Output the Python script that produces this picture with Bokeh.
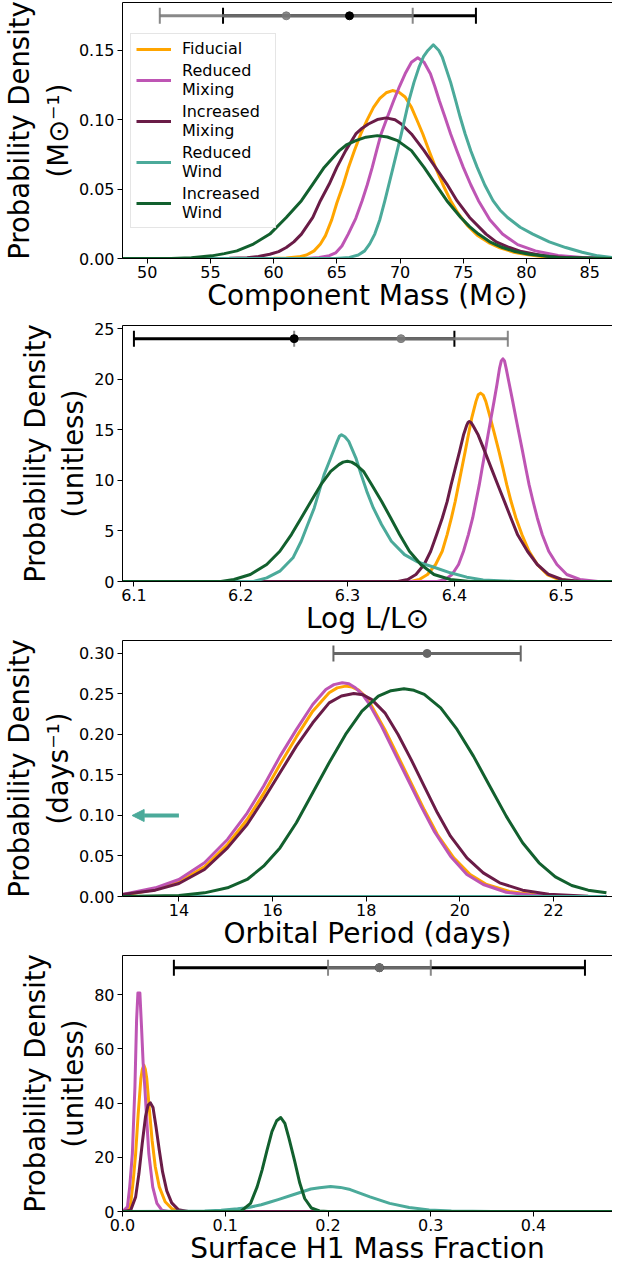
from bokeh.plotting import figure
from bokeh.models import (ColumnDataSource, Whisker, TeeHead, Arrow, NormalHead,
                          Legend, LegendItem, FixedTicker, LinearAxis, NumeralTickFormatter)
from bokeh.layouts import column
from bokeh.embed import file_html
from bokeh.resources import INLINE

# ---------------- data ----------------
series_names = ["Fiducial", "Reduced\nMixing", "Increased\nMixing", "Reduced\nWind", "Increased\nWind"]
series_colors = ["#FFA500", "#BE55B4", "#6A1C47", "#4BAA9A", "#12602E"]

# Panel 1: component mass
mass_x_fid = [48, 58, 60, 61, 62, 62.6, 63.2, 63.7, 64.1, 64.6, 65.0, 65.5, 65.9, 66.4, 66.9, 67.4, 67.9, 68.4, 68.9, 69.4, 69.9, 70.4, 70.9, 71.35, 71.8, 72.3, 72.8, 73.4, 74.0, 74.6, 75.3, 76.1, 77.0, 77.9, 79.0, 80.0, 81.2, 82.5, 84, 87]
mass_y_fid = [0, 0, 0.0001, 0.0004, 0.0012, 0.0025, 0.0055, 0.0105, 0.0165, 0.028, 0.040, 0.053, 0.065, 0.078, 0.090, 0.100, 0.109, 0.1155, 0.1195, 0.1211, 0.1200, 0.1165, 0.109, 0.0995, 0.0898, 0.0775, 0.0657, 0.053, 0.0417, 0.0325, 0.024, 0.0168, 0.0115, 0.0077, 0.0045, 0.0028, 0.0014, 0.0007, 0.0002, 0]
mass_x_rmix = [48, 62.5, 63.6, 64.4, 64.9, 65.4, 65.9, 66.5, 67.0, 67.4, 67.8, 68.15, 68.5, 69.0, 69.5, 69.95, 70.4, 70.9, 71.4, 71.9, 72.4, 72.75, 73.1, 73.55, 74.0, 74.5, 75.0, 75.6, 76.2, 77.1, 78.1, 79.3, 80.7, 82.5, 84.4, 87]
mass_y_rmix = [0, 0, 0.0008, 0.002, 0.004, 0.009, 0.0176, 0.029, 0.0417, 0.053, 0.0657, 0.078, 0.0898, 0.102, 0.1139, 0.124, 0.1332, 0.1415, 0.1447, 0.1415, 0.1332, 0.124, 0.1139, 0.102, 0.0898, 0.0775, 0.0657, 0.053, 0.0417, 0.028, 0.0176, 0.0100, 0.0055, 0.0022, 0.0007, 0]
mass_x_imix = [48, 56.5, 57.9, 58.8, 59.7, 60.4, 61.0, 61.6, 62.2, 63.1, 63.7, 64.4, 65.0, 65.7, 66.5, 67.0, 67.5, 68.2, 68.9, 69.6, 70.1, 70.9, 71.9, 72.8, 73.7, 74.5, 75.5, 76.8, 77.6, 78.65, 79.6, 80.7, 81.8, 83.1, 87]
mass_y_imix = [0, 0.0001, 0.0006, 0.0015, 0.0031, 0.005, 0.0079, 0.012, 0.0176, 0.0296, 0.0417, 0.0537, 0.0657, 0.0778, 0.0898, 0.094, 0.097, 0.1002, 0.1014, 0.1000, 0.097, 0.0898, 0.0778, 0.0657, 0.0537, 0.0417, 0.0296, 0.0176, 0.012, 0.0079, 0.005, 0.0031, 0.0015, 0.0007, 0]
mass_x_rwind = [48, 64.9, 66.0, 66.7, 67.2, 67.6, 68.0, 68.4, 68.8, 69.45, 70.1, 70.7, 71.1, 71.5, 71.85, 72.2, 72.63, 73.07, 73.35, 73.6, 74.0, 74.4, 74.75, 75.15, 75.6, 76.1, 76.7, 77.35, 77.9, 78.5, 79.5, 80.5, 81.8, 83.1, 84.4, 85.65, 87]
mass_y_rwind = [0, 0, 0.0008, 0.0025, 0.0055, 0.0105, 0.0176, 0.028, 0.0417, 0.0657, 0.0898, 0.1139, 0.127, 0.138, 0.1455, 0.150, 0.1541, 0.150, 0.145, 0.138, 0.127, 0.1139, 0.102, 0.0898, 0.0775, 0.0657, 0.053, 0.0417, 0.035, 0.0296, 0.0225, 0.0176, 0.012, 0.0079, 0.0045, 0.0019, 0.0005]
mass_x_iwind = [48, 51.9, 53.5, 55.1, 56.1, 57.1, 58.4, 59.7, 61.0, 62.2, 63.1, 64.0, 65.2, 65.8, 66.5, 67.3, 68.2, 69.0, 69.8, 70.9, 71.9, 72.8, 73.7, 74.8, 75.5, 76.2, 77.1, 78.1, 79.1, 80.2, 82.5, 87]
mass_y_iwind = [0, 0, 0.0006, 0.0019, 0.0035, 0.0055, 0.0104, 0.0176, 0.0296, 0.0417, 0.0537, 0.0657, 0.0778, 0.0822, 0.085, 0.0875, 0.0886, 0.0876, 0.085, 0.0778, 0.0657, 0.0537, 0.0417, 0.0296, 0.023, 0.0176, 0.012, 0.0079, 0.005, 0.0031, 0.0007, 0]
mass_obs_black = dict(center=[66.0], lo=[56.0], hi=[76.0], y=[0.175])
mass_obs_gray = dict(center=[61.0], lo=[51.0], hi=[71.0], y=[0.175])

# Panel 2: log luminosity
lum_x_fid = [6.08, 6.3594, 6.3671, 6.3748, 6.3824, 6.3886, 6.3932, 6.3972, 6.4008, 6.4039, 6.407, 6.4101, 6.4131, 6.4162, 6.4202, 6.4223, 6.4245, 6.427, 6.4294, 6.4337, 6.4377, 6.4417, 6.4454, 6.449, 6.453, 6.4576, 6.4632, 6.4699, 6.4776, 6.4868, 6.4975, 6.5129, 6.56]
lum_y_fid = [0, 0, 0.2, 0.69, 1.68, 2.99, 4.64, 6.28, 7.93, 9.57, 11.22, 12.86, 14.51, 16.15, 17.8, 18.45, 18.62, 18.42, 17.8, 16.15, 14.51, 12.86, 11.22, 9.57, 7.93, 6.28, 4.64, 2.99, 1.68, 0.69, 0.2, 0, 0]
lum_x_rmix = [6.08, 6.384, 6.3916, 6.3978, 6.4039, 6.4085, 6.4131, 6.4171, 6.4202, 6.4233, 6.426, 6.4288, 6.4315, 6.4343, 6.4371, 6.4398, 6.4423, 6.4439, 6.4454, 6.4469, 6.4484, 6.4515, 6.4546, 6.4576, 6.4607, 6.4638, 6.4668, 6.4699, 6.4736, 6.4776, 6.4822, 6.4883, 6.496, 6.5052, 6.5175, 6.5344, 6.56]
lum_y_rmix = [0, 0, 0.2, 0.69, 1.68, 2.99, 4.64, 6.28, 7.93, 9.57, 11.22, 12.86, 14.51, 16.15, 17.8, 19.44, 21.09, 21.8, 22.01, 21.8, 21.09, 19.44, 17.8, 16.15, 14.51, 12.86, 11.22, 9.57, 7.93, 6.28, 4.64, 2.99, 1.68, 0.69, 0.2, 0, 0]
lum_x_imix = [6.08, 6.3471, 6.3563, 6.364, 6.3717, 6.3778, 6.3833, 6.3886, 6.3932, 6.3969, 6.4008, 6.4048, 6.4085, 6.4116, 6.4128, 6.414, 6.4155, 6.4171, 6.4223, 6.4285, 6.4346, 6.4407, 6.4469, 6.453, 6.4592, 6.4684, 6.4776, 6.4883, 6.5006, 6.519, 6.56]
lum_y_imix = [0, 0, 0.2, 0.69, 1.68, 2.99, 4.61, 6.25, 7.89, 9.54, 11.18, 12.83, 14.47, 15.46, 15.72, 15.82, 15.72, 15.46, 14.47, 12.83, 11.18, 9.54, 7.89, 6.25, 4.61, 2.99, 1.68, 0.69, 0.2, 0, 0]
lum_x_rwind = [6.08, 6.212, 6.2243, 6.2366, 6.2489, 6.2566, 6.2627, 6.2688, 6.2734, 6.278, 6.2842, 6.2903, 6.2923, 6.2943, 6.2975, 6.3011, 6.3078, 6.3127, 6.318, 6.3241, 6.3318, 6.341, 6.3533, 6.3655, 6.3809, 6.3962, 6.4116, 6.4269, 6.4576, 6.56]
lum_y_rwind = [0, 0, 0.36, 1.02, 2.34, 3.98, 5.63, 7.27, 8.91, 10.56, 12.2, 13.85, 14.35, 14.5, 14.3, 13.85, 12.2, 10.56, 8.91, 7.27, 5.63, 3.98, 2.66, 1.94, 1.41, 0.86, 0.43, 0.16, 0, 0]
lum_x_iwind = [6.08, 6.1814, 6.1936, 6.209, 6.2243, 6.2366, 6.2474, 6.2566, 6.2658, 6.275, 6.2842, 6.2919, 6.2958, 6.2998, 6.3038, 6.3078, 6.3149, 6.3226, 6.3318, 6.3404, 6.3487, 6.3579, 6.3686, 6.3809, 6.3962, 6.4147, 6.56]
lum_y_iwind = [0, 0, 0.2, 0.69, 1.68, 2.99, 4.64, 6.28, 7.93, 9.57, 10.89, 11.55, 11.8, 11.88, 11.8, 11.55, 10.89, 9.57, 7.93, 6.28, 4.64, 2.99, 1.68, 0.69, 0.2, 0, 0]
lum_obs_black = dict(center=[6.25], lo=[6.10], hi=[6.40], y=[24.0])
lum_obs_gray = dict(center=[6.35], lo=[6.25], hi=[6.45], y=[24.0])

# Panel 3: orbital period
per_x_fid = [12.795, 13.496, 14.0, 14.546, 15.037, 15.457, 15.807, 16.158, 16.508, 16.858, 17.208, 17.38, 17.559, 17.7, 17.839, 17.98, 18.119, 18.399, 18.68, 18.96, 19.24, 19.52, 19.87, 20.22, 20.57, 21.06, 21.62, 22.46, 23.13]
per_y_fid = [0.0016, 0.0086, 0.0177, 0.0366, 0.0642, 0.095, 0.127, 0.163, 0.197, 0.2288, 0.2514, 0.2575, 0.2597, 0.2585, 0.2547, 0.247, 0.235, 0.206, 0.173, 0.140, 0.107, 0.0765, 0.0477, 0.0272, 0.0148, 0.0062, 0.002, 0.0, 0.0]
per_x_rmix = [12.795, 13.496, 14.0, 14.546, 15.037, 15.457, 15.807, 16.158, 16.508, 16.858, 17.138, 17.31, 17.489, 17.63, 17.769, 17.91, 18.049, 18.329, 18.609, 18.89, 19.17, 19.45, 19.8, 20.15, 20.5, 20.99, 21.55, 22.25, 23.13]
per_y_rmix = [0.0025, 0.0107, 0.021, 0.0416, 0.0704, 0.103, 0.136, 0.173, 0.206, 0.237, 0.2556, 0.2615, 0.2638, 0.2625, 0.2576, 0.250, 0.239, 0.210, 0.177, 0.1444, 0.1115, 0.0807, 0.0498, 0.0272, 0.0148, 0.0053, 0.0016, 0.0, 0.0]
per_x_imix = [12.795, 13.496, 14.0, 14.546, 15.037, 15.457, 15.807, 16.158, 16.508, 16.858, 17.208, 17.47, 17.734, 17.93, 18.119, 18.399, 18.68, 18.96, 19.24, 19.52, 19.8, 20.15, 20.5, 20.85, 21.34, 21.9, 22.74, 23.13]
per_y_imix = [0.0025, 0.0078, 0.016, 0.0333, 0.060, 0.0889, 0.1198, 0.1527, 0.1856, 0.2144, 0.239, 0.2475, 0.2506, 0.249, 0.243, 0.2267, 0.2, 0.169, 0.136, 0.1033, 0.0745, 0.0477, 0.0292, 0.0169, 0.0078, 0.0029, 0.0004, 0.0]
per_x_rwind = [12.795, 23.13]
per_y_rwind = [0.0, 0.0]
per_x_iwind = [12.795, 14.0, 14.546, 15.037, 15.457, 15.807, 16.158, 16.508, 16.858, 17.208, 17.559, 17.909, 18.259, 18.53, 18.806, 19.02, 19.24, 19.59, 19.94, 20.29, 20.64, 20.99, 21.34, 21.69, 22.04, 22.39, 22.74, 23.13]
per_y_iwind = [0.0, 0.0012, 0.0045, 0.0107, 0.021, 0.0374, 0.060, 0.091, 0.128, 0.165, 0.2, 0.2288, 0.2473, 0.254, 0.2564, 0.2545, 0.2494, 0.2329, 0.2062, 0.1733, 0.1362, 0.0992, 0.0663, 0.0416, 0.0243, 0.0136, 0.0078, 0.0045]
per_obs_gray = dict(center=[19.3], lo=[17.3], hi=[21.3], y=[0.30])
per_arrow_x = [14.0, 13.0]
per_arrow_y = 0.10

# Panel 4: surface H1 mass fraction
h_x_fid = [0.0, 0.0048, 0.008, 0.0105, 0.0128, 0.0153, 0.0179, 0.0193, 0.0208, 0.0222, 0.0236, 0.0262, 0.0288, 0.0319, 0.0358, 0.0415, 0.0479, 0.0543, 0.065, 0.48]
h_y_fid = [0, 0.2, 3.0, 11.6, 21.4, 36.2, 49.1, 52.5, 54.0, 52.5, 49.1, 37.4, 26.3, 16.5, 9.1, 3.6, 1.1, 0.1, 0, 0]
h_x_rmix = [0.0, 0.0048, 0.007, 0.0096, 0.0121, 0.0137, 0.015, 0.0169, 0.0185, 0.0201, 0.0217, 0.0236, 0.0256, 0.0294, 0.0335, 0.0383, 0.0447, 0.48]
h_y_rmix = [0, 1.7, 9.1, 21.4, 46, 70.6, 80.7, 80.7, 68.2, 54.6, 46, 33.7, 21.4, 9.1, 3.0, 0.5, 0, 0]
h_x_imix = [0.0, 0.008, 0.0128, 0.016, 0.0192, 0.0224, 0.0249, 0.0272, 0.0297, 0.0326, 0.0358, 0.039, 0.0431, 0.0479, 0.0543, 0.0639, 0.48]
h_y_imix = [0, 0.5, 5.4, 14.0, 25.1, 35.0, 39.3, 40.1, 38.4, 31.3, 22.6, 14.6, 7.6, 3.2, 0.7, 0, 0]
h_x_rwind = [0.0, 0.06, 0.08, 0.096, 0.112, 0.1214, 0.135, 0.1438, 0.1514, 0.166, 0.1833, 0.1917, 0.2025, 0.2120, 0.2216, 0.2408, 0.26, 0.279, 0.2984, 0.32, 0.34, 0.36, 0.48]
h_y_rwind = [0, 0.05, 0.2, 0.5, 1.0, 1.4, 2.5, 3.5, 4.4, 6.2, 8.3, 8.8, 9.2, 8.9, 8.1, 5.4, 3.0, 1.5, 0.6, 0.2, 0.05, 0, 0]
h_x_iwind = [0.0, 0.115, 0.1246, 0.131, 0.1358, 0.1406, 0.1454, 0.15, 0.154, 0.158, 0.162, 0.1673, 0.1725, 0.1773, 0.1837, 0.1917, 0.2, 0.48]
h_y_iwind = [0, 0, 3.0, 9.1, 15.3, 22.6, 29.5, 33.5, 34.7, 32.5, 27.0, 19.0, 10.5, 4.8, 1.3, 0.2, 0, 0]
h_obs_black = dict(center=[0.25], lo=[0.05], hi=[0.45], y=[90.0])
h_obs_gray = dict(center=[0.25], lo=[0.20], hi=[0.30], y=[90.0])

# axis ticks / labels
mass_xticks = [50, 55, 60, 65, 70, 75, 80, 85]
mass_yticks = [0.0, 0.05, 0.10, 0.15]
lum_xticks = [6.1, 6.2, 6.3, 6.4, 6.5]
lum_yticks = [0, 5, 10, 15, 20, 25]
per_xticks = [14, 16, 18, 20, 22]
per_yticks = [0.0, 0.05, 0.10, 0.15, 0.20, 0.25, 0.30]
h_xticks = [0.0, 0.1, 0.2, 0.3, 0.4]
h_yticks = [0, 20, 40, 60, 80]

# ---------------- styling ----------------
FONT = "DejaVu Sans"
FIG_W = 612
FRAME_H = 256
BOTTOM = 57


def make_fig(xr, yr, xticks, yticks, xlabel, ylabel, top_border, xfmt=None, yfmt=None):
    p = figure(width=FIG_W, height=top_border + FRAME_H + BOTTOM, x_range=xr, y_range=yr,
               output_backend="svg", toolbar_location=None,
               min_border_left=114, min_border_right=0,
               min_border_top=top_border, min_border_bottom=BOTTOM)
    p.outline_line_color = None
    p.grid.visible = False
    p.background_fill_color = "white"
    p.border_fill_color = "white"
    p.xaxis.ticker = FixedTicker(ticks=xticks)
    p.yaxis.ticker = FixedTicker(ticks=yticks)
    if xfmt:
        p.xaxis.formatter = NumeralTickFormatter(format=xfmt)
    if yfmt:
        p.yaxis.formatter = NumeralTickFormatter(format=yfmt)
    for ax in (p.xaxis[0], p.yaxis[0]):
        ax.axis_line_color = "black"
        ax.axis_line_width = 1
        ax.major_tick_line_color = "black"
        ax.major_tick_line_width = 1
        ax.major_tick_out = 5
        ax.major_tick_in = 0
        ax.minor_tick_line_color = None
        ax.major_label_text_font = FONT
        ax.major_label_text_font_size = "16px"
        ax.major_label_text_color = "black"
        ax.axis_label_text_font = FONT
        ax.axis_label_text_font_style = "normal"
        ax.axis_label_text_color = "black"
    p.xaxis.axis_label = xlabel
    p.yaxis.axis_label = ylabel
    p.xaxis.major_label_standoff = 2
    p.yaxis.major_label_standoff = 3
    p.xaxis.axis_label_text_font_size = "28px"
    p.yaxis.axis_label_text_font_size = "27.5px"
    p.xaxis.axis_label_standoff = -2
    p.yaxis.axis_label_standoff = 2
    top = LinearAxis(ticker=FixedTicker(ticks=[]), major_label_text_font_size="0px",
                     axis_line_color="black", major_tick_line_color=None,
                     minor_tick_line_color=None, major_tick_out=0, major_tick_in=0,
                     major_label_standoff=0)
    p.add_layout(top, "above")
    return p


def add_curves(p, xs, ys):
    rends = []
    for x, y, c in zip(xs, ys, series_colors):
        r = p.line(x, y, line_color=c, line_width=3, line_join="round")
        rends.append(r)
    return rends


def add_errbar(p, d, color, alpha):
    src = ColumnDataSource(d)
    w = Whisker(source=src, base="y", lower="lo", upper="hi", dimension="width",
                line_color=color, line_width=3, line_alpha=alpha,
                lower_head=TeeHead(size=16, line_color=color, line_width=2, line_alpha=alpha),
                upper_head=TeeHead(size=16, line_color=color, line_width=2, line_alpha=alpha))
    p.add_layout(w)
    return src


GRAY = "#777777"
GRAY_ALPHA = 0.87

# Panel 1
p1 = make_fig((48.05, 86.8), (0, 0.1846), mass_xticks, mass_yticks,
              "Component Mass (M\u2299)", "Probability Density\n(M\u2299\u207b\u00b9)", 2,
              yfmt="0.00")
r1 = add_curves(p1, [mass_x_fid, mass_x_rmix, mass_x_imix, mass_x_rwind, mass_x_iwind],
                [mass_y_fid, mass_y_rmix, mass_y_imix, mass_y_rwind, mass_y_iwind])
sb = add_errbar(p1, mass_obs_black, "black", 1.0)
sg = add_errbar(p1, mass_obs_gray, GRAY, GRAY_ALPHA)
p1.scatter("center", "y", source=sb, size=8, color="black")
p1.scatter("center", "y", source=sg, size=8, color=GRAY, alpha=GRAY_ALPHA)
legend = Legend(items=[LegendItem(label=n, renderers=[r]) for n, r in zip(series_names, r1)],
                location=(8, 30), label_text_font=FONT, label_text_font_size="16px",
                label_text_color="black", glyph_width=35, glyph_height=18,
                label_standoff=11, label_width=88, spacing=3, padding=5, margin=0,
                border_line_color="#cccccc", border_line_width=1,
                background_fill_color="white", background_fill_alpha=0.8)
p1.add_layout(legend)

# Panel 2
p2 = make_fig((6.0893, 6.548), (0, 25.3), lum_xticks, lum_yticks,
              "Log L/L\u2299", "Probability Density\n(unitless)", 10, xfmt="0.0")
add_curves(p2, [lum_x_fid, lum_x_rmix, lum_x_imix, lum_x_rwind, lum_x_iwind],
           [lum_y_fid, lum_y_rmix, lum_y_imix, lum_y_rwind, lum_y_iwind])
sb = add_errbar(p2, lum_obs_black, "black", 1.0)
sg = add_errbar(p2, lum_obs_gray, GRAY, GRAY_ALPHA)
p2.scatter("center", "y", source=sb, size=8, color="black")
p2.scatter("center", "y", source=sg, size=8, color=GRAY, alpha=GRAY_ALPHA)

# Panel 3
p3 = make_fig((12.795, 23.26), (0, 0.316), per_xticks, per_yticks,
              "Orbital Period (days)", "Probability Density\n(days\u207b\u00b9)", 2, yfmt="0.00")
add_curves(p3, [per_x_fid, per_x_rmix, per_x_imix, per_x_rwind, per_x_iwind],
           [per_y_fid, per_y_rmix, per_y_imix, per_y_rwind, per_y_iwind])
sp = add_errbar(p3, per_obs_gray, "#666666", 1.0)
p3.scatter("center", "y", source=sp, size=8, color="#666666")
teal = series_colors[3]
p3.add_layout(Arrow(end=NormalHead(size=12, fill_color=teal, line_color=teal, line_width=1),
                    x_start=per_arrow_x[0], y_start=per_arrow_y,
                    x_end=per_arrow_x[1], y_end=per_arrow_y,
                    line_color=teal, line_width=4))

# Panel 4
p4 = make_fig((0.0, 0.4768), (0, 94.5), h_xticks, h_yticks,
              "Surface H1 Mass Fraction", "Probability Density\n(unitless)", 2, xfmt="0.0")
add_curves(p4, [h_x_fid, h_x_rmix, h_x_imix, h_x_rwind, h_x_iwind],
           [h_y_fid, h_y_rmix, h_y_imix, h_y_rwind, h_y_iwind])
sb = add_errbar(p4, h_obs_black, "black", 1.0)
sg = add_errbar(p4, h_obs_gray, GRAY, GRAY_ALPHA)
p4.scatter("center", "y", source=sb, size=8, color="black")
p4.scatter("center", "y", source=sg, size=8, color=GRAY, alpha=GRAY_ALPHA)

layout = column(p1, p2, p3, p4, spacing=0)
open("out.html", "w").write(file_html(layout, INLINE))
